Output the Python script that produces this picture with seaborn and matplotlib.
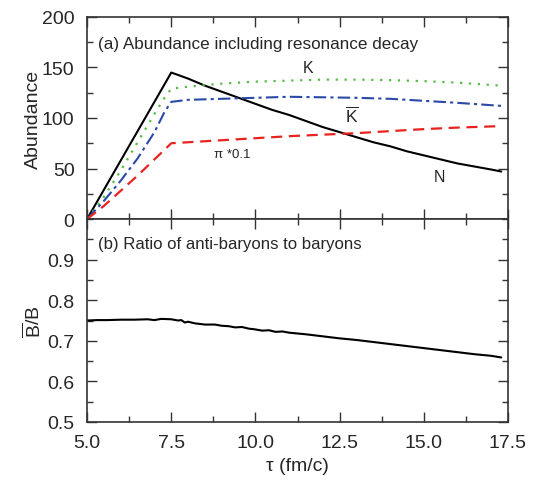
import numpy as np
import pandas as pd
import matplotlib
matplotlib.use('Agg')
import matplotlib.pyplot as plt
from matplotlib.ticker import MultipleLocator, FormatStrFormatter
import seaborn as sns

# abundance curves (panel a)
tau_n = [5.0, 5.5, 6.0, 6.5, 7.0, 7.5, 8.0, 8.5, 9.0, 9.5, 10.0, 10.5, 11.0, 11.5, 12.0,
         12.5, 13.0, 13.5, 14.0, 14.5, 15.0, 15.5, 16.0, 16.5, 17.0, 17.3]
abund_n = [0, 29, 58, 87, 116, 145, 139, 132, 126, 120, 114, 108, 103, 97, 91,
           86, 81, 76, 72, 67, 63, 59, 55, 52, 49, 47]

tau_k = [5.0, 5.5, 6.0, 6.5, 7.0, 7.3, 7.5, 8.0, 9.0, 10.0, 11.0, 12.0, 13.0, 14.0, 15.0, 16.0, 17.3]
abund_k = [0, 22, 48, 76, 104, 120, 129, 131, 134, 136, 137, 138, 138, 137.5, 136.5, 135, 132]

tau_kbar = [5.0, 5.5, 6.0, 6.5, 7.0, 7.3, 7.5, 8.0, 9.0, 10.0, 11.0, 12.0, 13.0, 14.0, 15.0, 16.0, 17.3]
abund_kbar = [0, 18, 38, 60, 86, 106, 116, 118, 119, 120, 121, 120.5, 120, 119, 117, 115, 112]

tau_pi = [5.0, 5.5, 6.0, 6.5, 7.0, 7.5, 8.0, 9.0, 10.0, 11.0, 12.0, 13.0, 14.0, 15.0, 16.0, 17.3]
abund_pi = [0, 13, 28, 43, 59, 75, 76, 78, 80, 82, 83.5, 85, 87, 89, 90.5, 92]

# antibaryon / baryon ratio (panel b)
tau_r = [5.0, 5.3, 5.6, 6.0, 6.4, 6.8, 7.0, 7.2, 7.5, 7.7, 7.8, 7.9, 8.0, 8.2, 8.5, 8.8, 9.0,
         9.2, 9.4, 9.6, 9.8, 10.0, 10.2, 10.4, 10.6, 10.8, 11.0, 11.5, 12.0, 12.5, 13.0,
         13.5, 14.0, 14.5, 15.0, 15.5, 16.0, 16.5, 17.0, 17.3]
ratio = [0.750, 0.751, 0.751, 0.752, 0.752, 0.753, 0.751, 0.754, 0.753, 0.750, 0.751, 0.745,
         0.747, 0.743, 0.740, 0.740, 0.737, 0.736, 0.733, 0.734, 0.730, 0.728, 0.725, 0.726,
         0.722, 0.723, 0.720, 0.716, 0.711, 0.706, 0.702, 0.697, 0.692, 0.687, 0.682,
         0.677, 0.672, 0.667, 0.663, 0.659]

sns.set_style('ticks')
plt.rcParams['font.family'] = ['Liberation Sans', 'DejaVu Sans']
plt.rcParams['mathtext.fontset'] = 'custom'
plt.rcParams['mathtext.rm'] = 'Liberation Sans'
plt.rcParams['mathtext.it'] = 'Liberation Sans:italic'

fig = plt.figure(figsize=(5.41, 4.81), dpi=100)
ax1 = fig.add_axes([0.161, 0.5426, 0.778, 0.42])
ax2 = fig.add_axes([0.161, 0.1206, 0.778, 0.422])

sns.lineplot(x=tau_n, y=abund_n, ax=ax1, color='black', linewidth=1.5)
sns.lineplot(x=tau_k, y=abund_k, ax=ax1, color='#55bb44', linewidth=1.6, linestyle=(0, (1, 3)))
sns.lineplot(x=tau_kbar, y=abund_kbar, ax=ax1, color='#2a4aa8', linewidth=1.5,
             linestyle=(0, (6, 2, 1.5, 2)))
sns.lineplot(x=tau_pi, y=abund_pi, ax=ax1, color='#e8231f', linewidth=1.6,
             linestyle=(0, (5, 3)))
sns.lineplot(x=tau_r, y=ratio, ax=ax2, color='black', linewidth=1.5)

for ax in (ax1, ax2):
    ax.set_xlim(5.0, 17.5)
    ax.set_xticks([5.0, 7.5, 10.0, 12.5, 15.0, 17.5])
    ax.xaxis.set_minor_locator(MultipleLocator(1.25))
    ax.xaxis.set_major_formatter(FormatStrFormatter('%.1f'))
    ax.tick_params(which='both', direction='in', top=True, right=True, labelsize=14,
                   color='#333333', pad=9)
    ax.tick_params(which='major', length=7, width=1)
    ax.tick_params(which='minor', length=4, width=1)
    for s in ax.spines.values():
        s.set_linewidth(1.2)
        s.set_color('#333333')

ax1.set_ylim(0, 200)
ax1.yaxis.set_major_locator(MultipleLocator(50))
ax1.yaxis.set_minor_locator(MultipleLocator(25))
ax1.tick_params(axis='x', labelbottom=False)
ax1.set_ylabel('Abundance', fontsize=14, labelpad=0)
ax1.text(0.025, 0.87, '(a) Abundance including resonance decay', transform=ax1.transAxes,
         fontsize=12.3, va='center')
ax1.text(11.55, 150, 'K', fontsize=11.5, ha='center', va='center')
ax1.text(12.86, 104, r'$\overline{\rm K}$', fontsize=12.5, ha='center', va='center')
ax1.text(9.3, 64, 'π *0.1', fontsize=9.5, ha='center', va='center')
ax1.text(15.47, 42, 'N', fontsize=11.5, ha='center', va='center')

ax2.set_ylim(0.5, 1.0)
ax2.set_yticks([0.5, 0.6, 0.7, 0.8, 0.9])
ax2.yaxis.set_minor_locator(MultipleLocator(0.05))
ax2.yaxis.set_major_formatter(FormatStrFormatter('%.1f'))
ax2.set_ylabel(r'$\overline{\rm B}$/B', fontsize=14, labelpad=2)
ax2.set_xlabel('τ (fm/c)', fontsize=14, labelpad=4)
ax2.text(0.025, 0.88, '(b) Ratio of anti-baryons to baryons', transform=ax2.transAxes,
         fontsize=12.1, va='center')

fig.savefig('out.png', dpi=100)
